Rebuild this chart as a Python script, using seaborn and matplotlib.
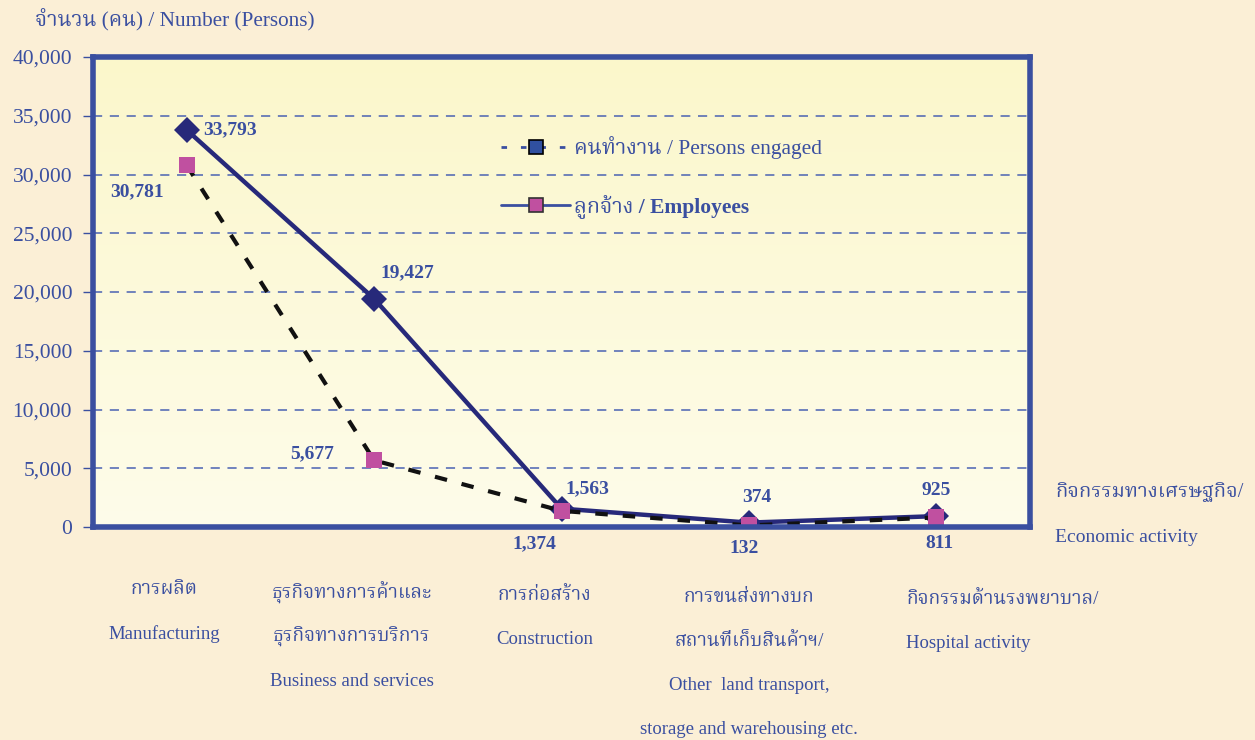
import numpy as np
import pandas as pd
import matplotlib
matplotlib.use("Agg")
import matplotlib.pyplot as plt
from matplotlib.lines import Line2D
from matplotlib import font_manager
from matplotlib.colors import LinearSegmentedColormap
import seaborn as sns

# ---- data ----
categories_th = ["การผลิต", "ธุรกิจทางการค้าและ\nธุรกิจทางการบริการ", "การก่อสร้าง",
                 "การขนส่งทางบก\nสถานที่เก็บสินค้าฯ/", "กิจกรรมด้านรงพยาบาล/"]
categories_en = ["Manufacturing", "Business and services", "Construction",
                 "Other  land transport,\nstorage and warehousing etc.", "Hospital activity"]
persons_engaged = [33793, 19427, 1563, 374, 925]
employees = [30781, 5677, 1374, 132, 811]
y_ticks = [0, 5000, 10000, 15000, 20000, 25000, 30000, 35000, 40000]

sns.set_theme(style="white")
names = {f.name for f in font_manager.fontManager.ttflist}
thai_candidates = ["Noto Serif Thai", "Taviraj", "Trirong", "Noto Sans Thai Looped",
                   "Sarabun", "Noto Sans Thai", "Anuphan", "Athiti", "Bai Jamjuree"]
thai = [n for n in thai_candidates if n in names][:1]
FAM = ["Liberation Serif"] + thai + ["DejaVu Sans"]
plt.rcParams["font.family"] = FAM

BLUE = "#3A4FA0"
NAVY = "#27297A"
PINK = "#C050A0"
BG = "#FBEFD6"

fig = plt.figure(figsize=(12.55, 7.40), dpi=100, facecolor=BG)
ax = fig.add_axes([93/1255, 1-527/740, 937/1255, 470/740])

# gradient inside plot area (yellower at top, lighter at bottom)
grad = np.linspace(0, 1, 256).reshape(-1, 1)
cmap = LinearSegmentedColormap.from_list("g", ["#FBF7CB", "#FEFCEA"])
ax.imshow(grad, aspect="auto", cmap=cmap, extent=[0, 1, 0, 1],
          transform=ax.transAxes, zorder=0)

x = np.arange(len(persons_engaged))
df = pd.DataFrame({"x": np.concatenate([x, x]),
                   "value": persons_engaged + employees,
                   "series": ["Persons engaged"] * 5 + ["Employees"] * 5})

sns.lineplot(data=df[df.series == "Persons engaged"], x="x", y="value", ax=ax,
             color=NAVY, lw=3.2, marker="D", markersize=13, markeredgewidth=0,
             zorder=3, legend=False)
sns.lineplot(data=df[df.series == "Employees"], x="x", y="value", ax=ax,
             color="#111111", lw=3.0, linestyle=(0, (3.0, 3.6)), marker="s",
             markersize=12, markerfacecolor=PINK, markeredgewidth=0,
             zorder=4, legend=False)

ax.set_xlim(-0.5, 4.5)
ax.set_ylim(0, 40000)
ax.set_yticks(y_ticks)
ax.set_yticklabels([f"{v:,}" for v in y_ticks], color=BLUE, fontsize=15.5, family=FAM)
ax.set_xticks([])
ax.set_xlabel("")
ax.set_ylabel("")
ax.tick_params(axis="y", length=7, width=1, color=BLUE, pad=8, left=True)
for y in y_ticks[1:-1]:
    ax.axhline(y, color="#4A62B2", lw=1.1, ls=(0, (6, 5)), zorder=1)
for s in ax.spines.values():
    s.set_color(BLUE)
    s.set_linewidth(4)
    s.set_zorder(5)

# data labels
pe_off = [(16, 0, "left", "center"), (6, 26, "left", "center"), (4, 20, "left", "center"),
          (8, 25, "center", "center"), (0, 26, "center", "center")]
em_off = [(-23, -26, "right", "center"), (-40, 7, "right", "center"), (-27, -33, "center", "center"),
          (-5, -23, "center", "center"), (3, -26, "center", "center")]
for vals, offs in ((persons_engaged, pe_off), (employees, em_off)):
    for i, (v, o) in enumerate(zip(vals, offs)):
        ax.annotate(f"{v:,}", (i, v), xytext=(o[0]*0.72, o[1]*0.72),
                    textcoords="offset points", ha=o[2], va=o[3], color=BLUE,
                    fontsize=14, fontweight="bold", family=FAM, zorder=6)

# category labels: one text per line
LINE = 44 / 470  # line pitch in axes fraction
lab_x = [-0.12, -0.12, -0.09, 0.0, -0.16]
lab_ha = ["center", "center", "center", "center", "left"]
lab_y0 = [-(590-527)/470, -(593-527)/470, -(595-527)/470, -(597-527)/470, -(600-527)/470]
for i in range(5):
    lines = categories_th[i].split("\n") + categories_en[i].split("\n")
    nth = len(categories_th[i].split("\n"))
    for k, ln in enumerate(lines):
        ax.text(i + lab_x[i], lab_y0[i] - k * LINE, ln, transform=ax.get_xaxis_transform(),
                ha=lab_ha[i], va="center", color=BLUE,
                fontsize=13.8 if k < nth else 13.5, family=FAM)

# axis titles
fig.text(35/1255, 1-20/740, "จำนวน (คน) / Number (Persons)", color=BLUE, fontsize=15.3,
         family=FAM, ha="left", va="center")
fig.text(1055/1255, 1-492/740, "กิจกรรมทางเศรษฐกิจ/", color=BLUE, fontsize=14.6,
         family=FAM, ha="left", va="center")
fig.text(1055/1255, 1-538/740, "Economic activity", color=BLUE, fontsize=14,
         family=FAM, ha="left", va="center")

# legend
h1 = Line2D([], [], color=BLUE, lw=2, ls=(0, (2, 5)), marker="s", markersize=10,
            markerfacecolor="#3050A0", markeredgecolor="black", markeredgewidth=1.2)
h2 = Line2D([], [], color=BLUE, lw=2, ls="-", marker="s", markersize=10,
            markerfacecolor=PINK, markeredgecolor="#333333", markeredgewidth=1.2)
leg = ax.legend([h1, h2], ["คนทำงาน / Persons engaged", "ลูกจ้าง / Employees"],
                loc="center left", bbox_to_anchor=(0.415, 0.744), frameon=False,
                handlelength=3.2, handletextpad=0.2, labelspacing=1.65,
                prop={"family": FAM, "size": 15.5})
for t, w in zip(leg.get_texts(), ["normal", "bold"]):
    t.set_color(BLUE)
    t.set_fontweight(w)

fig.savefig("out.png", dpi=100, facecolor=BG)
